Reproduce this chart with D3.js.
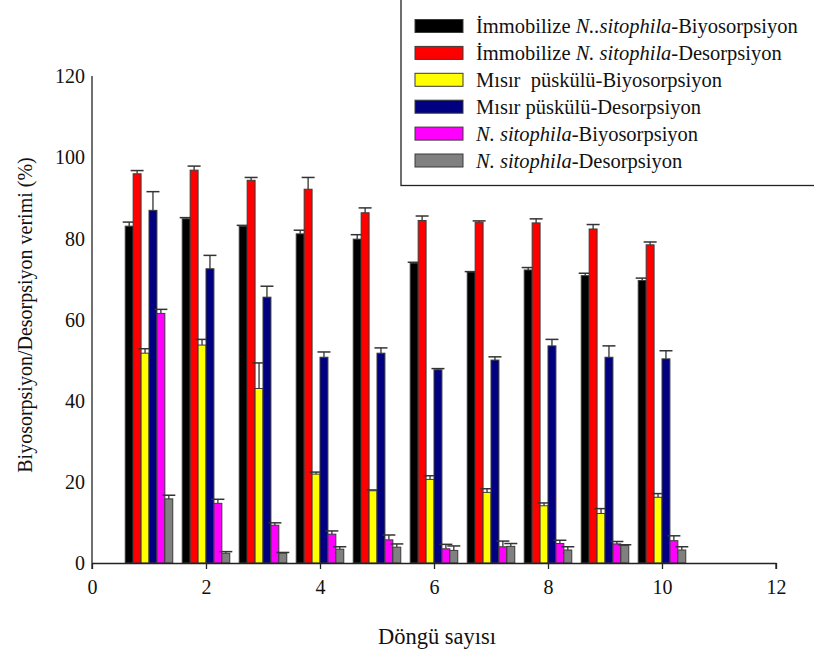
<!DOCTYPE html>
<html>
<head>
<meta charset="utf-8">
<script src="https://cdn.jsdelivr.net/npm/d3@7"></script>
<style>
  html, body { margin: 0; padding: 0; background: #fff; }
  svg { display: block; }
  svg text { font-family: "Liberation Serif", "Times New Roman", Times, serif; white-space: pre; fill: #111; }
</style>
</head>
<body>
<svg id="chart" width="814" height="652"></svg>
<script>
// Cycle numbers (Döngü sayısı)
const cycles = [1, 2, 3, 4, 5, 6, 7, 8, 9, 10];

// Efficiency (%) per series, with the upper error for each bar
const immBio     = [83.0, 84.8, 83.0, 81.1, 79.8, 73.9, 71.7, 72.2, 70.8, 69.6];
const immBioErr  = [1.0, 0.3, 0.2, 0.9, 1.1, 0.2, 0.1, 0.6, 0.6, 0.6];
const immDes     = [95.9, 96.8, 94.3, 92.1, 86.3, 84.4, 84.0, 83.8, 82.3, 78.4];
const immDesErr  = [0.8, 1.0, 0.7, 2.9, 1.2, 1.1, 0.3, 1.0, 1.1, 0.7];
const misBio     = [51.7, 53.7, 43.0, 21.9, 17.8, 20.6, 17.4, 14.1, 12.2, 16.2];
const misBioErr  = [1.1, 1.4, 6.3, 0.5, 0.2, 0.9, 0.9, 0.7, 1.2, 0.9];
const misDes     = [86.9, 72.5, 65.5, 50.7, 51.7, 47.6, 50.0, 53.5, 50.7, 50.3];
const misDesErr  = [4.6, 3.3, 2.7, 1.3, 1.3, 0.3, 0.8, 1.6, 2.8, 2.0];
const nsBio      = [61.5, 14.7, 9.3, 7.1, 5.7, 3.5, 4.0, 4.8, 4.7, 5.5];
const nsBioErr   = [1.0, 1.0, 0.6, 0.8, 1.2, 1.1, 1.4, 0.8, 0.6, 1.2];
const nsDes      = [15.8, 2.4, 2.4, 3.4, 3.9, 3.1, 4.1, 3.2, 4.3, 3.2];
const nsDesErr   = [0.9, 0.4, 0.2, 0.6, 0.8, 1.1, 0.7, 0.8, 0.2, 0.8];

// Legend labels: [normal, italic, normal] pieces
const seriesLabels = [
  ["İmmobilize ", "N..sitophila", "-Biyosorpsiyon"],
  ["İmmobilize ", "N. sitophila", "-Desorpsiyon"],
  ["Mısır  püskülü-Biyosorpsiyon", "", ""],
  ["Mısır püskülü-Desorpsiyon", "", ""],
  ["", "N. sitophila", "-Biyosorpsiyon"],
  ["", "N. sitophila", "-Desorpsiyon"]
];
const seriesColors = ["#000000", "#ff0000", "#ffff00", "#000080", "#ff00ff", "#808080"];

const xTicks = [0, 2, 4, 6, 8, 10, 12];
const yTicks = [0, 20, 40, 60, 80, 100, 120];

const series = [
  { values: immBio, errs: immBioErr },
  { values: immDes, errs: immDesErr },
  { values: misBio, errs: misBioErr },
  { values: misDes, errs: misDesErr },
  { values: nsBio,  errs: nsBioErr },
  { values: nsDes,  errs: nsDesErr }
].map((s, i) => ({ ...s, color: seriesColors[i], label: seriesLabels[i] }));

const svg = d3.select("#chart");

const x = d3.scaleLinear().domain([0, 12]).range([92, 776]);
const y = d3.scaleLinear().domain([0, 120]).range([563, 76]);

// Each bar spans this many units on the x axis
const barUnits = 0.139;
const barW = x(barUnits) - x(0);

// Bars with upper error whiskers
const gBars = svg.append("g");
series.forEach((s, si) => {
  const offset = (si - 3) * barUnits;
  const rows = cycles.map((c, i) => ({ c, v: s.values[i], e: s.errs[i] }));
  const g = gBars.append("g");
  const eb = g.selectAll("g.err").data(rows).enter().append("g").attr("class", "err");
  eb.append("line")
    .attr("x1", d => x(d.c + offset) + barW / 2)
    .attr("x2", d => x(d.c + offset) + barW / 2)
    .attr("y1", d => y(d.v))
    .attr("y2", d => y(d.v + d.e))
    .attr("stroke", "#333").attr("stroke-width", 1.3);
  eb.append("line")
    .attr("x1", d => x(d.c + offset) + barW / 2 - 6.5)
    .attr("x2", d => x(d.c + offset) + barW / 2 + 6.5)
    .attr("y1", d => y(d.v + d.e))
    .attr("y2", d => y(d.v + d.e))
    .attr("stroke", "#333").attr("stroke-width", 1.5);
  g.selectAll("rect").data(rows).enter().append("rect")
    .attr("x", d => x(d.c + offset))
    .attr("y", d => y(d.v))
    .attr("width", barW)
    .attr("height", d => y(0) - y(d.v))
    .attr("fill", s.color)
    .attr("stroke", "#3a3a3a")
    .attr("stroke-width", 1);
});

// Axes
const xAxis = d3.axisBottom(x).tickValues(xTicks).tickSize(6).tickPadding(10).tickFormat(d3.format("d"));
const gx = svg.append("g").attr("transform", `translate(0,${y(0)})`).call(xAxis);
gx.attr("font-family", null);
gx.select(".domain").attr("d", `M${x(0)},0.5H${x(12)}V6`).attr("stroke", "#222").attr("stroke-width", 1.3);
gx.selectAll(".tick line").attr("stroke", "#222").attr("stroke-width", 1.3);
gx.selectAll("text").attr("font-size", 20).attr("dy", "0.75em");

const yAxis = d3.axisLeft(y).tickValues(yTicks).tickSize(0).tickPadding(7).tickFormat(d3.format("d"));
const gy = svg.append("g").attr("transform", `translate(${x(0)},0)`).call(yAxis);
gy.attr("font-family", null);
gy.select(".domain").attr("d", `M0,${y(120)}V${y(0) + 6}`).attr("stroke", "#222").attr("stroke-width", 1.3);
gy.selectAll("text").attr("font-size", 20).attr("dy", "0.34em");

// Axis titles
svg.append("text")
  .attr("x", 437).attr("y", 644)
  .attr("text-anchor", "middle")
  .attr("font-size", 22.5)
  .text("Döngü sayısı");

svg.append("text")
  .attr("transform", "translate(32,315) rotate(-90)")
  .attr("text-anchor", "middle")
  .attr("font-size", 20)
  .text("Biyosorpsiyon/Desorpsiyon verimi (%)");

// Legend
const lg = svg.append("g");
lg.append("rect")
  .attr("x", 401).attr("y", -2)
  .attr("width", 420).attr("height", 187.5)
  .attr("fill", "#fff").attr("stroke", "#222").attr("stroke-width", 1.3);

const rowStep = 26.9;
series.forEach((s, i) => {
  const cy = 26 + i * rowStep;
  lg.append("rect")
    .attr("x", 415).attr("y", cy - 6.5)
    .attr("width", 48).attr("height", 13)
    .attr("fill", s.color).attr("stroke", "#3a3a3a").attr("stroke-width", 1);
  const t = lg.append("text")
    .attr("x", 476).attr("y", cy + 7)
    .attr("font-size", 20.5);
  const [a, b, c] = s.label;
  if (a) t.append("tspan").text(a);
  if (b) t.append("tspan").attr("font-style", "italic").text(b);
  if (c) t.append("tspan").text(c);
});
</script>
</body>
</html>
